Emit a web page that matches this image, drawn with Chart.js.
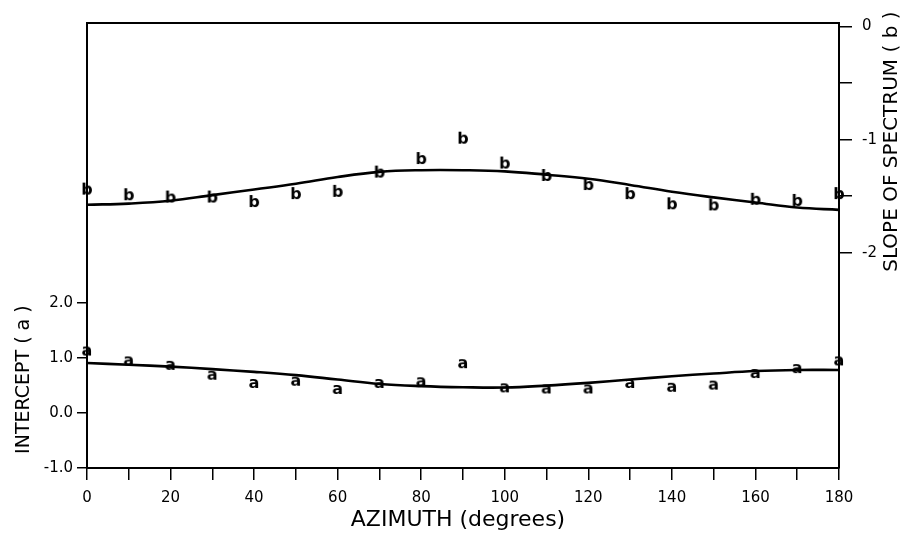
<!DOCTYPE html>
<html>
<head>
<meta charset="utf-8">
<title>Intercept and slope vs azimuth</title>
<script src="https://cdn.jsdelivr.net/npm/chart.js@4"></script>
<style>
  html, body { margin: 0; padding: 0; background: #fff; }
  #wrap { width: 914px; height: 538px; }
</style>
</head>
<body>
<div id="wrap"><canvas id="azChart" width="914" height="538"></canvas></div>
<script>
// Data
const azimuth = [0, 10, 20, 30, 40, 50, 60, 70, 80, 90, 100, 110, 120, 130, 140, 150, 160, 170, 180];
const slopeB = [-1.45, -1.50, -1.52, -1.52, -1.56, -1.49, -1.47, -1.30, -1.18, -1.00, -1.22, -1.33, -1.41, -1.49, -1.58, -1.59, -1.54, -1.55, -1.49];
const interceptA = [1.12, 0.94, 0.86, 0.68, 0.53, 0.57, 0.42, 0.53, 0.56, 0.89, 0.45, 0.43, 0.43, 0.53, 0.46, 0.50, 0.71, 0.80, 0.94];
const slopeFit = [-1.575, -1.565, -1.54, -1.49, -1.44, -1.39, -1.33, -1.285, -1.27, -1.27, -1.28, -1.31, -1.345, -1.40, -1.46, -1.51, -1.555, -1.60, -1.62];
const interceptFit = [0.91, 0.88, 0.845, 0.80, 0.75, 0.69, 0.61, 0.53, 0.49, 0.47, 0.465, 0.50, 0.55, 0.61, 0.67, 0.72, 0.765, 0.785, 0.785];

// Axis ticks
const xTicks = [0, 10, 20, 30, 40, 50, 60, 70, 80, 90, 100, 110, 120, 130, 140, 150, 160, 170, 180];
const xTickLabels = ['0', '', '20', '', '40', '', '60', '', '80', '', '100', '', '120', '', '140', '', '160', '', '180'];
const leftTicks = [-1, 0, 1, 2];
const leftTickLabels = ['-1.0', '0.0', '1.0', '2.0'];
const rightTicks = [0, -0.5, -1, -1.5, -2];
const rightTickLabels = ['0', '', '-1', '', '-2'];

const FONT = 'DejaVu Sans';

// letter markers used as point styles
function letterMarker(ch) {
    const c = document.createElement('canvas');
    c.width = 20;
    c.height = 28;
    const g = c.getContext('2d');
    g.fillStyle = '#000';
    g.font = 'bold 16px ' + FONT;
    g.textAlign = 'center';
    g.textBaseline = 'alphabetic';
    g.fillText(ch, 10, 14 + 4);
    return c;
}
const markA = letterMarker('a');
const markB = letterMarker('b');

function pairs(xs, ys) {
    return xs.map((x, i) => ({ x: x, y: ys[i] }));
}

// axis titles placed like the original figure
const axisTitles = {
    id: 'axisTitles',
    afterDraw(chart) {
        const ctx = chart.ctx;
        const { x, y, y2 } = chart.scales;
        ctx.save();
        ctx.fillStyle = '#000';
        ctx.textAlign = 'center';
        ctx.textBaseline = 'middle';

        ctx.font = '22px ' + FONT;
        ctx.fillText('AZIMUTH (degrees)', (x.left + x.right) / 2 - 5, 520);

        ctx.save();
        ctx.translate(24, (y.getPixelForValue(-1) + y.getPixelForValue(2)) / 2 - 6);
        ctx.rotate(-Math.PI / 2);
        ctx.font = '19px ' + FONT;
        ctx.fillText('INTERCEPT ( a )', 0, 0);
        ctx.restore();

        ctx.save();
        ctx.translate(892, (y2.getPixelForValue(0) + y2.getPixelForValue(-2)) / 2 + 2);
        ctx.rotate(-Math.PI / 2);
        ctx.font = '20px ' + FONT;
        ctx.fillText('SLOPE OF SPECTRUM ( b )', 0, 0);
        ctx.restore();

        ctx.restore();
    }
};

const tickFont = { family: FONT, size: 15 };

new Chart(document.getElementById('azChart'), {
    type: 'line',
    data: {
        datasets: [
            {
                label: 'slope fit',
                data: pairs(azimuth, slopeFit),
                yAxisID: 'y2',
                borderColor: '#000',
                borderWidth: 2.6,
                pointRadius: 0,
                tension: 0.4,
                fill: false
            },
            {
                label: 'intercept fit',
                data: pairs(azimuth, interceptFit),
                yAxisID: 'y',
                borderColor: '#000',
                borderWidth: 2.6,
                pointRadius: 0,
                tension: 0.4,
                fill: false
            },
            {
                label: 'b',
                type: 'scatter',
                data: pairs(azimuth, slopeB),
                yAxisID: 'y2',
                pointStyle: markB,
                showLine: false,
                clip: false
            },
            {
                label: 'a',
                type: 'scatter',
                data: pairs(azimuth, interceptA),
                yAxisID: 'y',
                pointStyle: markA,
                showLine: false,
                clip: false
            }
        ]
    },
    options: {
        responsive: false,
        animation: false,
        devicePixelRatio: 1,
        layout: { padding: 0 },
        plugins: {
            legend: { display: false },
            tooltip: { enabled: false }
        },
        scales: {
            x: {
                type: 'linear',
                position: 'bottom',
                min: 0,
                max: 180,
                afterBuildTicks: (axis) => { axis.ticks = xTicks.map(v => ({ value: v })); },
                afterFit: (s) => { s.height = 70; },
                ticks: {
                    color: '#000',
                    font: tickFont,
                    padding: 9,
                    maxRotation: 0,
                    autoSkip: false,
                    callback: (v) => xTickLabels[xTicks.indexOf(v)]
                },
                grid: { drawOnChartArea: false, tickLength: 12, color: '#000', lineWidth: 1.5 },
                border: { color: '#000', width: 2 }
            },
            xTop: {
                type: 'linear',
                position: 'top',
                min: 0,
                max: 180,
                afterFit: (s) => { s.height = 23; },
                ticks: { display: false },
                grid: { display: false },
                border: { color: '#000', width: 2 }
            },
            y: {
                type: 'linear',
                position: 'left',
                min: -1,
                max: 7.1,
                afterBuildTicks: (axis) => { axis.ticks = leftTicks.map(v => ({ value: v })); },
                afterFit: (s) => { s.width = 87; },
                ticks: {
                    color: '#000',
                    font: tickFont,
                    padding: 4,
                    callback: (v) => leftTickLabels[leftTicks.indexOf(v)]
                },
                grid: { drawOnChartArea: false, tickLength: 10, color: '#000', lineWidth: 1.5 },
                border: { color: '#000', width: 2 }
            },
            y2: {
                type: 'linear',
                position: 'right',
                min: -3.9,
                max: 0.03,
                afterBuildTicks: (axis) => { axis.ticks = rightTicks.map(v => ({ value: v })); },
                afterFit: (s) => { s.width = 75; },
                ticks: {
                    color: '#000',
                    font: tickFont,
                    padding: 10,
                    callback: (v) => rightTickLabels[rightTicks.indexOf(v)]
                },
                grid: { drawOnChartArea: false, tickLength: 13, color: '#000', lineWidth: 1.5 },
                border: { color: '#000', width: 2 }
            }
        }
    },
    plugins: [axisTitles]
});
</script>
</body>
</html>
